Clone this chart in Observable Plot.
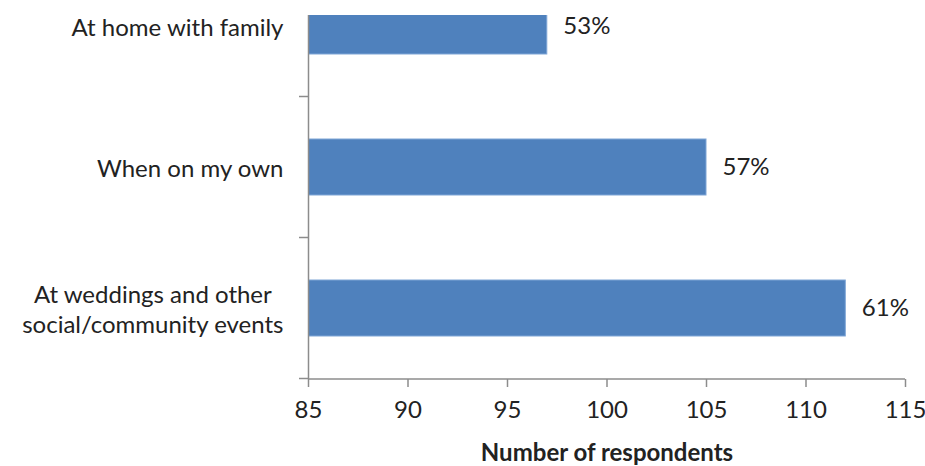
<!DOCTYPE html>
<html>
<head>
<meta charset="utf-8">
<script src="https://cdn.jsdelivr.net/npm/d3@7"></script>
<script src="https://cdn.jsdelivr.net/npm/@observablehq/plot@0.6"></script>
<style>
  html, body { margin: 0; padding: 0; background: #fff; }
  svg { display: block; }
</style>
</head>
<body>
<div id="chart"></div>
<script>
const categories = ["At home with family", "When on my own", "At weddings and other\nsocial/community events"];
const respondents = [97, 105, 112];
const percentLabels = ["53%", "57%", "61%"];
const xDomain = [85, 115];
const xTicks = [85, 90, 95, 100, 105, 110, 115];
const xTitle = "Number of respondents";

const data = categories.map((c, i) => ({category: c, value: respondents[i], label: percentLabels[i]}));

const axisColor = "#8c8c8c";
const textColor = "#222";
const barColor = "#4f81bd";
const fontSize = 24;

function categoryAxisLines(index, scales, values, dimensions) {
  const y = scales.y, x = scales.x;
  const bw = y.bandwidth ? y.bandwidth() : 0;
  const centers = categories.map(c => y(c) + bw / 2);
  const step = centers[1] - centers[0];
  const x0 = x(xDomain[0]);
  const x1 = x(xDomain[1]);
  const bottom = dimensions.height - dimensions.marginBottom;
  const g = d3.create("svg:g");
  const bounds = centers.map(c => c + step / 2);
  for (const b of bounds) {
    g.append("line")
      .attr("x1", x0 - 9).attr("x2", x0)
      .attr("y1", b).attr("y2", b)
      .attr("stroke", axisColor).attr("stroke-width", 1.5);
  }
  g.append("line")
    .attr("x1", x0).attr("x2", x1)
    .attr("y1", bottom).attr("y2", bottom)
    .attr("stroke", axisColor).attr("stroke-width", 1.5);
  return g.node();
}

const chart = Plot.plot({
  width: 925,
  height: 466,
  marginLeft: 308,
  marginRight: 20,
  marginTop: 15,
  marginBottom: 87,
  style: {fontFamily: "Lato, 'Open Sans', sans-serif", fontSize: fontSize + "px", color: textColor, background: "#fff"},
  x: {domain: xDomain, label: null},
  y: {domain: categories, range: [-44, 379], paddingInner: 0.6, paddingOuter: 0.3, label: null},
  marks: [
    Plot.barX(data, {y: "category", x1: xDomain[0], x2: "value", fill: barColor, stroke: "#7fa5d6", strokeWidth: 1, clip: true}),
    Plot.ruleX([xDomain[0]], {stroke: axisColor, strokeWidth: 1.5}),
    categoryAxisLines,
    Plot.axisY({tickSize: 0, tickPadding: 25, fontSize: fontSize, lineHeight: 1.25, fill: textColor, label: null}),
    Plot.axisX({ticks: xTicks, tickSize: 8, tickPadding: 13, stroke: axisColor, strokeWidth: 1.5, fontSize: fontSize, fill: textColor, label: null}),
    Plot.text(data, {y: "category", x: "value", text: "label", textAnchor: "start", dx: 16, fontSize: fontSize, fill: textColor}),
    Plot.text([xTitle], {frameAnchor: "bottom", dy: 81, fontWeight: "bold", fontSize: fontSize, fill: textColor})
  ]
});
document.getElementById("chart").appendChild(chart);

// Center the lines of multi-line category labels within their block (right edge kept).
chart.querySelectorAll('g[aria-label="y-axis tick label"] text').forEach(t => {
  const spans = t.querySelectorAll("tspan");
  if (spans.length < 2) return;
  let w = 0;
  spans.forEach(s => { w = Math.max(w, s.getComputedTextLength()); });
  t.setAttribute("text-anchor", "middle");
  spans.forEach(s => s.setAttribute("x", -w / 2));
});
</script>
</body>
</html>
